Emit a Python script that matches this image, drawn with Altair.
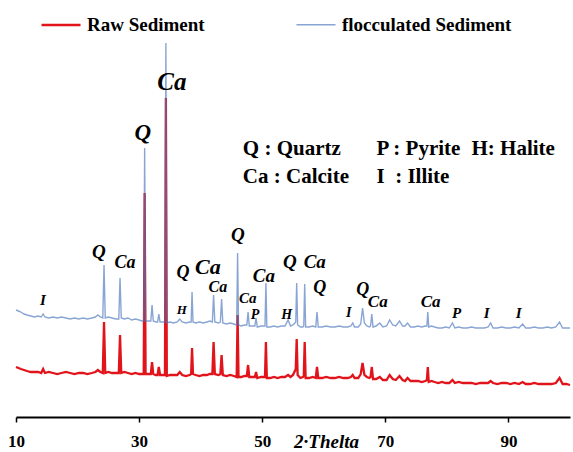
import altair as alt
import pandas as pd

# ---- data (2-theta, intensity in arbitrary counts) ----
two_theta = [
    10.0, 10.4, 10.8, 11.3, 11.8, 12.4, 13.0, 13.6, 14.1, 14.4,
    14.7, 15.3, 16.0, 16.7, 17.4, 18.1, 18.8, 19.5, 20.2, 20.9,
    21.6, 22.3, 22.9, 23.3, 23.7, 24.1, 24.3, 24.5, 25.0, 25.6,
    26.2, 26.7, 26.9, 27.1, 27.6, 28.2, 28.8, 29.4, 30.0, 30.5,
    30.75, 30.9, 31.05, 31.5, 31.9, 32.1, 32.3, 32.7, 33.0, 33.2,
    33.4, 33.9, 34.2, 34.35, 34.5, 35.0, 35.6, 36.2, 36.6, 37.0,
    37.6, 38.2, 38.45, 38.6, 38.75, 39.2, 39.8, 40.4, 41.0, 41.5,
    41.9, 42.1, 42.3, 42.9, 43.2, 43.4, 43.6, 44.2, 44.8, 45.4,
    45.85, 46.0, 46.15, 46.6, 47.1, 47.5, 47.7, 47.9, 48.4, 48.8,
    49.0, 49.2, 49.8, 50.3, 50.45, 50.6, 50.75, 51.3, 51.9, 52.5,
    53.1, 53.7, 54.2, 54.6, 55.0, 55.3, 55.45, 55.6, 55.75, 56.2,
    56.6, 56.75, 56.9, 57.05, 57.6, 58.2, 58.7, 58.9, 59.1, 59.7,
    60.4, 61.1, 61.8, 62.5, 63.2, 63.9, 64.4, 64.7, 65.0, 65.6,
    66.0, 66.3, 66.6, 67.0, 67.4, 67.6, 67.8, 68.0, 68.5, 69.1,
    69.6, 70.2, 70.7, 71.2, 71.7, 72.3, 72.8, 73.2, 73.6, 74.1,
    74.7, 75.3, 75.9, 76.5, 76.75, 76.9, 77.05, 77.5, 78.0, 78.6,
    79.2, 79.8, 80.4, 80.9, 81.3, 81.9, 82.6, 83.3, 84.0, 84.7,
    85.4, 86.1, 86.7, 87.1, 87.5, 88.2, 88.9, 89.6, 90.3, 91.0,
    91.7, 92.3, 92.8, 93.5, 94.2, 94.9, 95.6, 96.3, 97.0, 97.7,
    98.3, 98.8, 99.4, 100.0,
]

flocculated = [
    107, 106, 105, 103, 102, 101, 100, 101, 100, 103,
    100, 99, 100, 99, 100, 99, 98, 99, 98, 99,
    98, 99, 100, 102, 100, 99, 152, 99, 100, 99,
    98, 98, 139, 99, 98, 99, 97, 98, 97, 96,
    96, 269, 96, 96, 96, 112, 96, 95, 95, 103,
    95, 95, 95, 374, 94, 95, 94, 95, 98, 95,
    94, 95, 95, 125, 95, 94, 95, 94, 95, 96,
    95, 122, 95, 94, 95, 118, 94, 93, 94, 93,
    92, 164, 92, 91, 92, 92, 105, 91, 91, 91,
    99, 90, 91, 91, 91, 134, 90, 90, 91, 90,
    91, 91, 97, 91, 92, 94, 95, 134, 92, 90,
    90, 91, 133, 90, 90, 91, 90, 105, 90, 90,
    91, 90, 90, 91, 90, 90, 91, 94, 90, 90,
    93, 109, 94, 91, 90, 91, 103, 90, 91, 94,
    90, 91, 97, 92, 91, 96, 91, 91, 94, 90,
    90, 91, 90, 91, 91, 105, 90, 91, 90, 89,
    89, 90, 89, 94, 89, 90, 89, 89, 90, 89,
    89, 89, 90, 94, 89, 89, 90, 89, 89, 90,
    89, 93, 89, 89, 90, 89, 89, 90, 89, 90,
    95, 89, 89, 89,
]

raw = [
    50, 49, 48, 47, 46, 45, 45, 45, 44, 48,
    44, 45, 44, 43, 44, 45, 44, 43, 44, 44,
    43, 44, 45, 47, 45, 44, 95, 44, 45, 44,
    44, 44, 82, 44, 45, 44, 43, 44, 43, 43,
    43, 224, 43, 43, 43, 55, 43, 42, 42, 50,
    42, 42, 42, 319, 41, 42, 42, 42, 45, 42,
    41, 42, 43, 69, 43, 42, 41, 42, 42, 43,
    43, 75, 43, 42, 43, 62, 42, 41, 42, 41,
    40, 102, 40, 40, 41, 41, 52, 40, 40, 40,
    45, 39, 40, 40, 40, 75, 39, 39, 40, 39,
    40, 40, 42, 40, 42, 46, 48, 78, 42, 39,
    40, 41, 75, 39, 39, 40, 39, 50, 39, 39,
    40, 39, 39, 40, 39, 39, 40, 42, 39, 39,
    43, 54, 42, 40, 39, 40, 50, 38, 38, 40,
    37, 37, 42, 38, 37, 41, 37, 36, 39, 36,
    36, 36, 35, 36, 37, 50, 35, 36, 35, 34,
    35, 34, 34, 37, 34, 35, 34, 34, 34, 33,
    34, 34, 34, 36, 34, 33, 34, 34, 33, 34,
    33, 35, 33, 33, 34, 33, 33, 33, 33, 34,
    39, 33, 33, 32,
]

assert len(two_theta) == len(flocculated) == len(raw)

series_names = ["Raw Sediment", "flocculated Sediment"]
series_colors = ["#e0141a", "#4a74bd"]
series_opacity = [1.0, 0.65]
series_width = [2.3, 1.4]

# peak labels
peak_text = ["I", "Q", "Ca", "Q", "Ca", "H", "Q", "Ca", "Ca", "Q", "Ca", "P",
             "Ca", "H", "Q", "Ca", "Q", "I", "Q", "Ca", "Ca", "P", "I", "I"]
peak_theta = [14.38, 23.47, 27.69, 30.62, 35.32, 36.95, 37.11, 41.17, 42.79,
              46.04, 47.66, 48.85, 50.26, 53.99, 54.48, 58.54, 59.35, 64.06,
              66.33, 68.77, 77.37, 81.59, 86.46, 91.66]
peak_level = [117, 165, 154, 284, 335, 107, 144, 150, 130, 182, 119, 102,
              141, 102, 155, 155, 129, 104, 127, 115, 115, 104, 104, 104]
peak_fsize = [15, 19, 18, 23, 25, 13, 18, 22, 16, 19, 15, 14,
              19, 14, 19, 19, 18, 14, 18, 17, 17, 15, 15, 15]

# phase key
key_text = ["Q : Quartz", "P : Pyrite", "H: Halite", "Ca : Calcite", "I", ": Illite"]
key_theta = [46.85, 68.55, 84.0, 46.85, 68.55, 71.6]
key_level = [262, 262, 262, 234, 234, 234]

xticks = [10, 30, 50, 70, 90]

# ---- tables ----
n = len(two_theta)
df = pd.DataFrame({
    "theta": two_theta * 2,
    "intensity": raw + flocculated,
    "series": [series_names[0]] * n + [series_names[1]] * n,
})
peaks = pd.DataFrame({"t": peak_text, "x": peak_theta, "y": peak_level, "fs": peak_fsize})
key = pd.DataFrame({"t": key_text, "x": key_theta, "y": key_level})

x_scale = alt.Scale(domain=[10, 100], nice=False, zero=False)
y_scale = alt.Scale(domain=[0, 380], nice=False, zero=False)

color = alt.Color(
    "series:N",
    scale=alt.Scale(domain=series_names, range=series_colors),
    legend=alt.Legend(
        title=None, orient="none", legendX=24, legendY=-33, direction="horizontal",
        columns=2, columnPadding=88, symbolType="stroke", symbolSize=1521,
        labelOffset=5, labelFont="Liberation Serif", labelFontWeight="bold",
        labelFontSize=19, labelColor="black", padding=0, labelLimit=400,
    ),
)
opac = alt.Opacity("series:N", scale=alt.Scale(domain=series_names, range=series_opacity))
sw = alt.StrokeWidth("series:N", scale=alt.Scale(domain=series_names, range=series_width))

base = alt.Chart(df).encode(
    x=alt.X("theta:Q", scale=x_scale, axis=alt.Axis(
        values=xticks, title="2·Thelta", titleFont="Liberation Serif",
        titleFontStyle="italic", titleFontWeight="bold", titleFontSize=19,
        titleColor="black", titleX=310, titleY=30, titleAlign="center",
        titleBaseline="alphabetic", labelFont="Liberation Serif",
        labelFontWeight="bold", labelFontSize=17, labelColor="black",
        labelPadding=11, tickSize=5, tickWidth=1.5, tickColor="black",
        domainColor="black", domainWidth=2, grid=False, labelFlush=False,
    )),
    y=alt.Y("intensity:Q", scale=y_scale, axis=None),
    color=color,
    opacity=opac,
    strokeWidth=sw,
)

raw_line = base.transform_filter(alt.datum.series == series_names[0]).mark_line(interpolate="linear")
floc_line = base.transform_filter(alt.datum.series == series_names[1]).mark_line(interpolate="linear")

peak_labels = alt.Chart(peaks).mark_text(
    font="Liberation Serif", fontStyle="italic", fontWeight="bold",
    color="black", align="center", baseline="middle",
).encode(
    x=alt.X("x:Q", scale=x_scale),
    y=alt.Y("y:Q", scale=y_scale),
    text="t:N",
    size=alt.Size("fs:Q", scale=None, legend=None),
)

key_labels = alt.Chart(key).mark_text(
    font="Liberation Serif", fontWeight="bold", fontSize=21,
    color="black", align="left", baseline="alphabetic",
).encode(
    x=alt.X("x:Q", scale=x_scale),
    y=alt.Y("y:Q", scale=y_scale),
    text="t:N",
)

chart = alt.layer(raw_line, floc_line, peak_labels, key_labels).properties(
    width=554, height=380,
    autosize=alt.AutoSizeParams(type="none"),
    padding={"left": 16, "top": 37, "right": 3, "bottom": 35},
    background="white",
).configure_view(stroke=None)

chart.save("out.html", embed_options={"renderer": "svg", "actions": False})
